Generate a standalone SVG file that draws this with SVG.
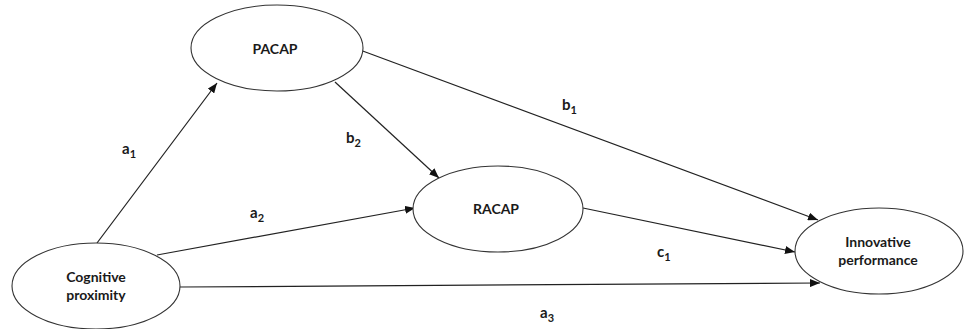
<svg xmlns="http://www.w3.org/2000/svg" width="965" height="329" viewBox="0 0 965 329">
<defs>
<style>
.node ellipse{fill:#fff;stroke:#333;stroke-width:1.1}
.lbl{font-family:Lato,"Liberation Sans",sans-serif;font-weight:bold;font-size:14px;fill:#1a1a1a;text-anchor:middle}
.edge line{stroke:#222;stroke-width:1.2;fill:none;marker-end:url(#arr)}
.sym{font-family:Lato,"Liberation Sans",sans-serif;font-weight:bold;font-size:15px;fill:#1a1a1a}
.sub{font-size:11px}
</style>
<marker id="arr" viewBox="0 0 10 8" refX="10" refY="4" markerWidth="10" markerHeight="8" markerUnits="userSpaceOnUse" orient="auto">
<path d="M0,0 L10,4 L0,8 Z" fill="#111"/>
</marker>
</defs>
<rect width="965" height="329" fill="#fff"/>
<g id="connectors" class="edge">
<line x1="97" y1="243" x2="217" y2="83"/>
<line x1="157" y1="255" x2="415" y2="208"/>
<line x1="335" y1="82" x2="439" y2="178"/>
<line x1="360" y1="50" x2="818" y2="220"/>
<line x1="583" y1="208" x2="795" y2="252"/>
<line x1="180" y1="287" x2="820" y2="283"/>
</g>
<g id="labels">
<text class="sym" x="122" y="154">a<tspan class="sub" dy="4">1</tspan></text>
<text class="sym" x="250" y="218">a<tspan class="sub" dy="4">2</tspan></text>
<text class="sym" x="540" y="318">a<tspan class="sub" dy="4">3</tspan></text>
<text class="sym" x="562" y="110">b<tspan class="sub" dy="4">1</tspan></text>
<text class="sym" x="346" y="143">b<tspan class="sub" dy="4">2</tspan></text>
<text class="sym" x="657" y="257">c<tspan class="sub" dy="4">1</tspan></text>
</g>
<g id="node-cognitive" class="node">
<ellipse cx="96" cy="286" rx="84" ry="43"/>
<text class="lbl" x="96" y="282">Cognitive</text>
<text class="lbl" x="96" y="300">proximity</text>
</g>
<g id="node-pacap" class="node">
<ellipse cx="277" cy="48" rx="86" ry="43"/>
<text class="lbl" x="275" y="54">PACAP</text>
</g>
<g id="node-racap" class="node">
<ellipse cx="498" cy="209" rx="85" ry="43"/>
<text class="lbl" x="496" y="214">RACAP</text>
</g>
<g id="node-innovative" class="node">
<ellipse cx="879" cy="251" rx="84" ry="43"/>
<text class="lbl" x="878" y="247">Innovative</text>
<text class="lbl" x="878" y="265">performance</text>
</g>
</svg>
